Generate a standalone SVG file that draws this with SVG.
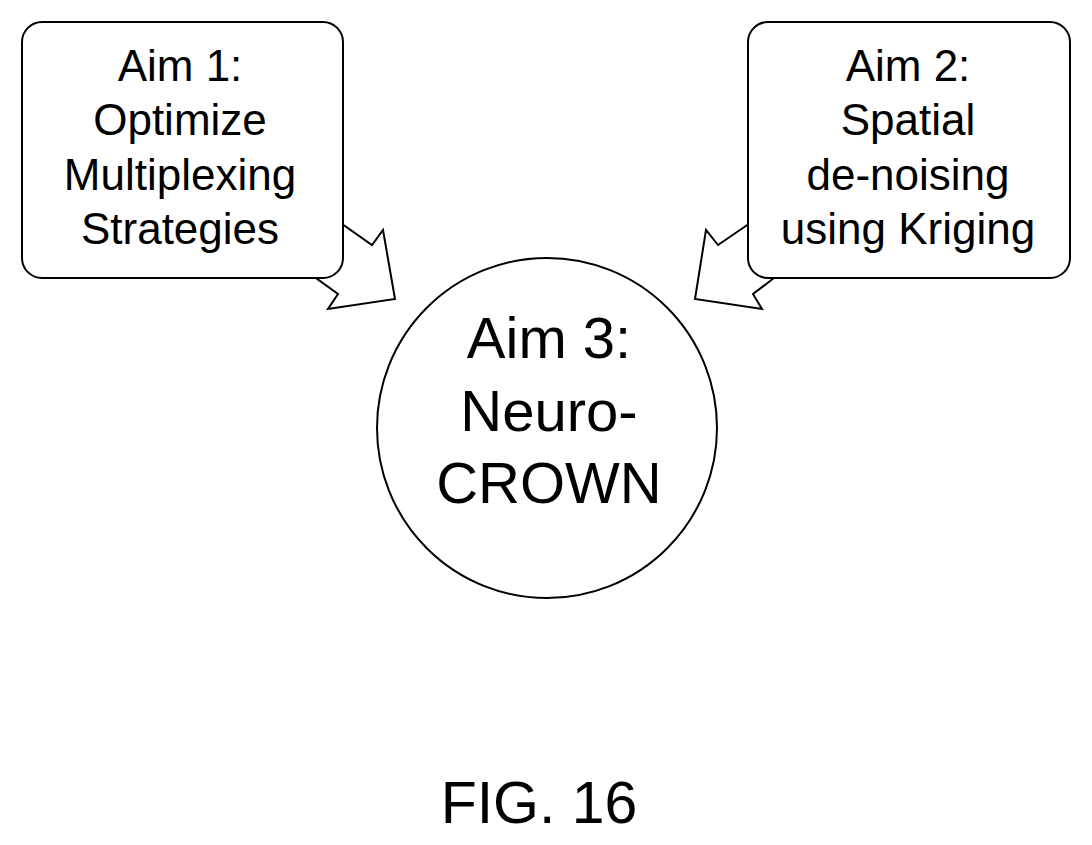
<svg xmlns="http://www.w3.org/2000/svg" width="1092" height="845" viewBox="0 0 1092 845">
<style>
.s{fill:#fff;stroke:#000;stroke-width:2}
text{font-family:"Liberation Sans",Arial,sans-serif;text-anchor:middle;fill:#000}
.b{font-size:44px}.c{font-size:58px}
</style>
<rect width="1092" height="845" fill="#fff"/>
<g id="connectors">
<polygon class="s" points="335,219 372,245 383,230 395,299 328,309 338,294 316,278"/>
<polygon class="s" points="756,219 718,245 706,230 695,299 762,309 753,294 774,278"/>
</g>
<g id="aim1"><rect class="s" x="22" y="22" width="321" height="256" rx="20"/>
<text class="b" x="180" y="81">Aim 1:</text><text class="b" x="180" y="135">Optimize</text><text class="b" x="180" y="190">Multiplexing</text><text class="b" x="180" y="244">Strategies</text></g>
<g id="aim2"><rect class="s" x="748" y="22" width="322" height="256" rx="20"/>
<text class="b" x="908" y="81">Aim 2:</text><text class="b" x="908" y="135">Spatial</text><text class="b" x="908" y="190">de-noising</text><text class="b" x="908" y="244">using Kriging</text></g>
<g id="aim3"><circle class="s" cx="547" cy="428" r="170"/>
<text class="c" x="549" y="358">Aim 3:</text><text class="c" x="549" y="431">Neuro-</text><text class="c" x="549" y="503">CROWN</text></g>
<text x="539" y="823" style="font-size:59px">FIG. 16</text>
</svg>
